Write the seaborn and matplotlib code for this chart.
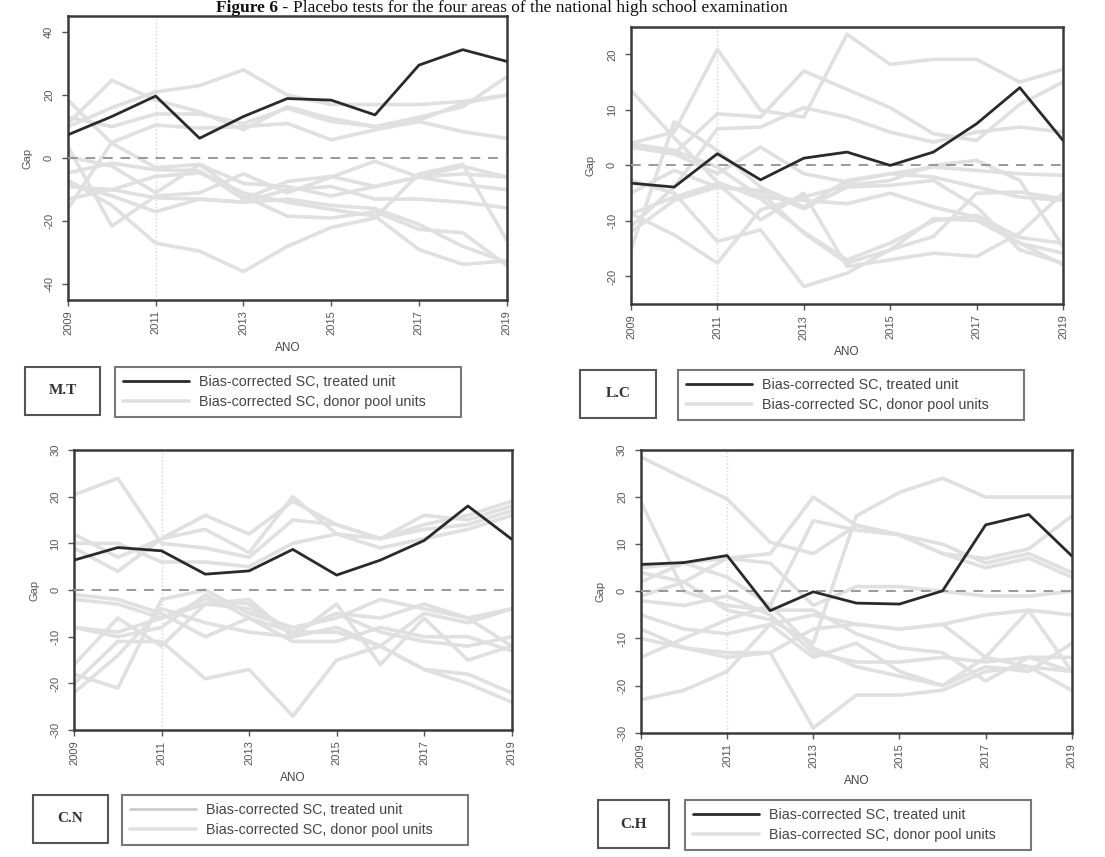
import numpy as np
import pandas as pd
import matplotlib
matplotlib.use('Agg')
import matplotlib.pyplot as plt
import seaborn as sns
from matplotlib.lines import Line2D
from matplotlib.patches import Rectangle

# values
years = list(range(2009, 2020))

mt_treated = [7.4, 13.2, 19.7, 6.3, 13.2, 18.9, 18.4, 13.7, 29.5, 34.4, 30.7]
mt_donors = [
    [10, 16, 21, 23, 28, 20, 17, 17, 17, 18, 20],
    [11, 24.7, 18.4, 14.7, 9, 16.3, 12.6, 10, 13, 16.3, 25.8],
    [18.4, 4.7, -3, -2, -8, -9, -12, -9, -6, -5, -6],
    [-16, 5, 10.5, 9.5, 10, 11, 5.8, 9, 11.6, 8.4, 6.3],
    [-7, -15, -27, -29.5, -36, -28, -22, -19, -5, -2, -26],
    [-8, -12, -17, -13, -14, -13, -15, -16, -21, -28, -33],
    [3.7, -21.6, -12, -11, -5, -11, -6, -1, -6, -8.4, -10],
    [-4.7, -1.6, -3.7, -4, -13, -7.4, -5.8, -9, -6, -2.6, -6],
    [0.5, -2.5, -11, -2, -12, -18.4, -19, -17, -22.6, -23.7, -34],
    [-9, -10, -12.6, -13, -14, -10, -9, -13, -13, -14, -15.8],
    [13, 10, 14, 14, 11, 15.8, 11.6, 10, 12, 17.4, 20],
    [-13, -10, -5.8, -4.7, -11, -14, -16.3, -18.4, -29, -33.7, -32.6],
]

lc_treated = [-3.2, -3.9, 2.1, -2.6, 1.3, 2.4, 0, 2.4, 7.5, 14, 4.5]
lc_donors = [
    [13.5, 5, -3, -6, -12, -17, -14, -10, -9, -13, -14],
    [4, 6, 20.9, 9.9, 8.7, 23.6, 18.2, 19.1, 19.1, 15, 17.3],
    [3.3, 2.1, 9.3, 8.7, 17, 13.7, 10.4, 5.7, 4.5, 11, 15],
    [-11, -3.9, 6.6, 6.9, 10.4, 8.7, 6, 4.2, 6, 6.9, 6],
    [-15.2, 7.8, 2.7, -3.9, -7.5, -2.7, -1.5, -0.3, -0.9, -1.5, -1.8],
    [3.3, 2.1, -1.5, 3.3, -1.5, -3, -1.5, -2.1, -3.9, -5.7, -6.3],
    [-5, -0.9, -3.9, -4.8, -12.2, -17.6, -15.2, -9.6, -9.9, -14, -17.9],
    [-8.7, -12.5, -17.6, -8, -5.7, -3.6, -2.7, 0, 0.9, -2.7, -14.6],
    [-2.7, -5, -13.7, -11.6, -21.8, -19.4, -15.2, -12.8, -5, -4.8, -6],
    [-8.7, -5.7, -3.3, -9.8, -5, -18.2, -17, -15.8, -16.4, -12.2, -5],
    [3.9, 2.7, -0.3, -5.7, -6.3, -6.9, -5, -7.5, -9.3, -14, -15.8],
    [-12, -6.3, -3.9, -4.5, -7.8, -3.9, -3.6, -2.7, -7.5, -15.2, -17.6],
]

cn_treated = [6.4, 9.1, 8.4, 3.4, 4.1, 8.7, 3.2, 6.4, 10.6, 18, 10.9]
cn_donors = [
    [20.4, 23.9, 10, 9, 7, 15, 14, 11, 13, 14, 17],
    [9, 4, 11, 13, 8, 20, 12, 11, 14, 16, 19],
    [-2, -3, -6, -2, -3, -9, -5, -6, -3, -6, -4],
    [-18, -21, -2, 0, -5, -8, -6, -2, -4, -6, -12],
    [-20, -11, -11, -19, -17, -27, -15, -12, -17, -20, -24],
    [-8, -10, -8, -1, -6, -9, -9, -12, -5, -7, -4],
    [-16, -6, -12, -3, -2, -10, -3, -16, -6, -15, -12],
    [12, 7, 11, 16, 12, 19, 14, 11, 16, 15, 18],
    [-1, -2, -5, -10, -6, -11, -11, -8, -10, -10, -13],
    [10, 10, 6, 6, 5, 10, 12, 9, 11, 13, 16],
    [-8, -9, -6, -3, -4, -9, -5, -9, -11, -12, -10],
    [-22, -14, -4, -7, -9, -10, -8, -12, -17, -18, -22],
]

ch_treated = [5.7, 6.1, 7.6, -4.1, -0.1, -2.5, -2.7, 0.1, 14.1, 16.3, 7.5]
ch_donors = [
    [28.5, 24, 19.6, 10.4, 8, 14, 12, 10, 6, 8, 4],
    [19, 0, -3, -4, -4, -9, -12, -13, -19, -14, -17],
    [4, 2, 7, 8, 20, 14, 12, 8, 7, 9, 16],
    [-1, 2, -4, -6, -11, 16, 21, 24, 20, 20, 20],
    [-23, -21, -17, -7, -5, -7, -8, -7, -14, -16, -17],
    [-8, -12, -14, -13, -8, -7, -8, -7, -5, -4, -5],
    [-14, -10, -6, -3, -12, -16, -18, -20, -16, -17, -11],
    [2, 6, 7, 6, -3, 1, 1, 0, -1, -1, 0],
    [-5, -8, -9, -7, -14, -11, -17, -20, -14, -4, -17],
    [-10, -12, -13, -13, -29, -22, -22, -21, -17, -16, -21],
    [5, 6, 3, -3, 15, 13, 12, 8, 5, 7, 3],
    [-2, -3, -1, -5, -13, -15, -15, -14, -15, -14, -14],
]

area_labels = ['M.T', 'L.C', 'C.N', 'C.H']
treated_label = 'Bias-corrected SC, treated unit'
donor_label = 'Bias-corrected SC, donor pool units'
x_ticks = [2009, 2011, 2013, 2015, 2017, 2019]

sns.set_theme(style='white')
plt.rcParams['font.family'] = ['Liberation Sans', 'DejaVu Sans']
plt.rcParams['axes.unicode_minus'] = False

fig = plt.figure(figsize=(11.05, 8.57), dpi=100)

panels = [
    (mt_treated, mt_donors, (-45, 45), [-40, -20, 0, 20, 40], [0.0615, 0.650, 0.397, 0.331]),
    (lc_treated, lc_donors, (-25, 25), [-20, -10, 0, 10, 20], [0.571, 0.645, 0.391, 0.324]),
    (cn_treated, cn_donors, (-30, 30), [-30, -20, -10, 0, 10, 20, 30], [0.067, 0.148, 0.396, 0.327]),
    (ch_treated, ch_donors, (-30, 30), [-30, -20, -10, 0, 10, 20, 30], [0.580, 0.145, 0.390, 0.330]),
]

# label box x0, x1, legend x0, top y (pixels)
box_pos = [(25, 100, 115, 367), (580, 656, 678, 370), (33, 108, 122, 795), (598, 669, 685, 800)]

W, H = 1105, 857
for i, (treated, donors, ylim, yticks, pos) in enumerate(panels):
    ax = fig.add_axes(pos)
    rows = []
    for u, d in enumerate(donors):
        for yr, v in zip(years, d):
            rows.append((u, yr, v))
    ddf = pd.DataFrame(rows, columns=['unit', 'ANO', 'Gap'])
    ax.axvline(2011, color='#d4d4d4', lw=1, ls=':', zorder=1)
    sns.lineplot(data=ddf, x='ANO', y='Gap', units='unit', estimator=None,
                 color='#e0e0e0', lw=2.6, ax=ax, legend=False, zorder=2)
    ax.axhline(0, color='#999999', lw=1.4, ls=(0, (5, 4)), zorder=3)
    sns.lineplot(x=years, y=treated, color='#2a2a2a', lw=2.0, ax=ax, zorder=4)

    ax.set_xlim(2009, 2019)
    ax.set_ylim(*ylim)
    ax.set_xticks(x_ticks)
    ax.set_yticks(yticks)
    ax.tick_params(axis='both', length=4, width=1, color='#555555', labelsize=8,
                   labelcolor='#555555', bottom=True, left=True)
    ax.tick_params(axis='x', labelrotation=90)
    ax.tick_params(axis='y', labelrotation=90, pad=6)
    for lab in ax.get_yticklabels():
        lab.set_va('center')
    ax.set_xlabel('ANO', fontsize=8.5, color='#444444', labelpad=5)
    ax.set_ylabel('Gap', fontsize=8, color='#555555', labelpad=8)
    for s in ax.spines.values():
        s.set_color('#3a3a3a')
        s.set_linewidth(1.8)

    # area label box
    bx0, bx1, lx0, top = box_pos[i]
    fig.patches.append(Rectangle((bx0 / W, 1 - (top + 48) / H), (bx1 - bx0) / W, 48 / H,
                                 transform=fig.transFigure, fill=False,
                                 edgecolor='#555555', lw=1.5))
    fig.text((bx0 + bx1) / 2 / W, 1 - (top + 24) / H, area_labels[i],
             family=['Liberation Serif', 'DejaVu Serif'], fontsize=11, fontweight='bold',
             color='#333333', ha='center', va='center')

    treated_color = '#cccccc' if area_labels[i] == 'C.N' else '#2a2a2a'
    handles = [Line2D([], [], color=treated_color, lw=2),
               Line2D([], [], color='#e0e0e0', lw=2.6)]
    leg = fig.legend(handles, [treated_label + '       ', donor_label + '       '],
                     loc='upper left', bbox_to_anchor=(lx0 / W, 1 - top / H),
                     fontsize=10.3, handlelength=4.6, frameon=True, fancybox=False,
                     edgecolor='#555555', borderpad=0.55, labelspacing=0.42,
                     handletextpad=0.7, borderaxespad=0)
    leg.get_frame().set_linewidth(1.5)
    for t in leg.get_texts():
        t.set_color('#444444')

fig.text(0.265, 1.0, 'Figure 6 - ', family=['Liberation Serif', 'DejaVu Serif'],
         fontsize=12.5, fontweight='bold', ha='right', va='top', color='#111111')
fig.text(0.265, 1.0, 'Placebo tests for the four areas of the national high school examination',
         family=['Liberation Serif', 'DejaVu Serif'], fontsize=12.5, ha='left', va='top',
         color='#111111')

fig.savefig('out.png', dpi=100)
